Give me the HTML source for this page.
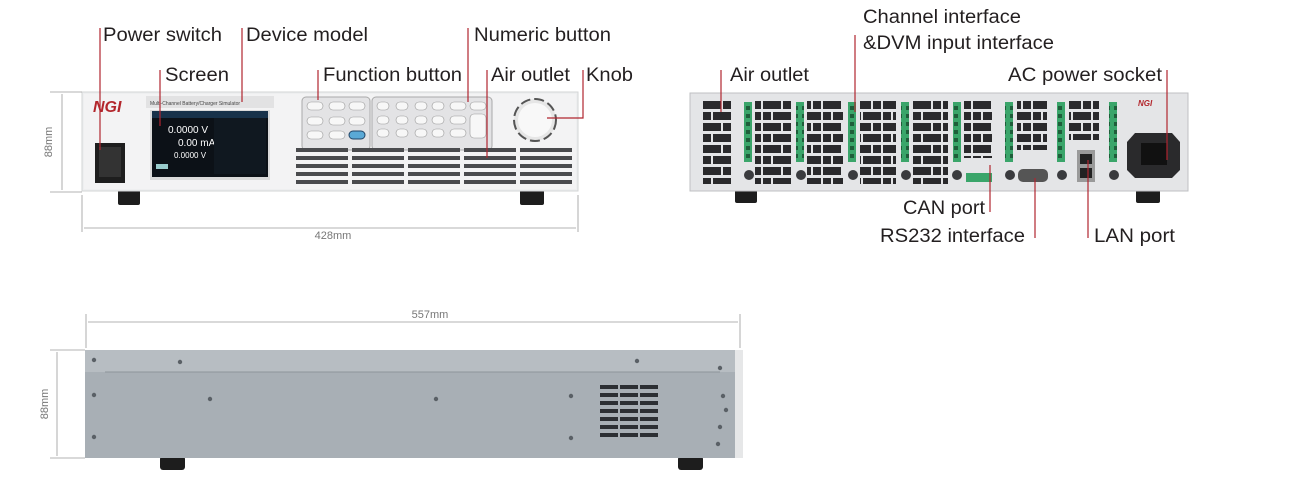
<!DOCTYPE html>
<html><head><meta charset="utf-8"><style>
html,body{margin:0;padding:0;background:#fff;}
svg{display:block;}
text{font-family:"Liberation Sans",Arial,sans-serif;fill:#231f20;}
</style></head><body>
<svg width="1293" height="492" viewBox="0 0 1293 492" xmlns="http://www.w3.org/2000/svg">
<defs>
<pattern id="fv" width="56" height="8" patternUnits="userSpaceOnUse" x="296" y="148">
<rect x="0" y="0" width="52" height="4" fill="#4a4b4e"/>
</pattern>
<pattern id="rv" width="30" height="22" patternUnits="userSpaceOnUse" x="703" y="100">
<rect x="0" y="1" width="18" height="8" fill="#2a2a2c"/><rect x="20" y="1" width="8" height="8" fill="#2a2a2c"/>
<rect x="0" y="12" width="8" height="8" fill="#2a2a2c"/><rect x="10" y="12" width="18" height="8" fill="#2a2a2c"/>
</pattern>
<pattern id="gc" width="8" height="8" patternUnits="userSpaceOnUse">
<rect width="8" height="8" fill="#3aa56a"/><rect x="2" y="2" width="4" height="4" fill="#1e5e3a"/>
</pattern>
<pattern id="sv" width="20" height="8" patternUnits="userSpaceOnUse" x="600" y="385">
<rect x="0" y="0" width="18" height="4" fill="#2c2f33"/>
</pattern>
</defs>

<!-- ===== FRONT ===== -->
<rect x="118" y="190" width="22" height="15" fill="#1d1d1d" rx="2"/>
<rect x="520" y="190" width="24" height="15" fill="#1d1d1d" rx="2"/>
<rect x="82" y="92" width="496" height="99" fill="#eeeff0" stroke="#d3d4d6"/>
<rect x="84" y="94" width="492" height="95" fill="#f3f3f4"/>
<text x="93" y="112" font-size="16" font-style="italic" font-weight="bold" style="fill:#b3262c">NGI</text>
<rect x="95" y="143" width="30" height="40" fill="#1e1e1e"/>
<rect x="99" y="147" width="22" height="30" fill="#333" />
<rect x="146" y="96" width="128" height="12" fill="#e2e2e3"/>
<text x="150" y="105" font-size="5" style="fill:#444">Multi-Channel Battery/Charger Simulator</text>
<rect x="150" y="110" width="120" height="70" fill="#dadada"/>
<rect x="152" y="111" width="116" height="66" fill="#0c1117"/>
<rect x="152" y="111" width="116" height="7" fill="#18324a"/>
<text x="168" y="133" font-size="10" style="fill:#fff">0.0000 V</text>
<text x="178" y="146" font-size="10" style="fill:#fff">0.00 mA</text>
<text x="174" y="158" font-size="8" style="fill:#fff">0.0000 V</text>
<rect x="156" y="164" width="12" height="5" fill="#9cc"/>
<rect x="214" y="118" width="52" height="56" fill="#101820"/>
<rect x="302" y="97" width="68" height="53" rx="4" fill="#e3e3e5" stroke="#aaa"/>
<rect x="372" y="97" width="120" height="53" rx="4" fill="#e3e3e5" stroke="#aaa"/>
<g fill="#f7f7f7" stroke="#999" stroke-width="0.6">
<rect x="307" y="102" width="16" height="8" rx="4"/><rect x="329" y="102" width="16" height="8" rx="4"/><rect x="349" y="102" width="16" height="8" rx="4"/>
<rect x="307" y="117" width="16" height="8" rx="4"/><rect x="329" y="117" width="16" height="8" rx="4"/><rect x="349" y="117" width="16" height="8" rx="4"/>
<rect x="307" y="131" width="16" height="8" rx="4"/><rect x="329" y="131" width="16" height="8" rx="4"/>
<rect x="377" y="102" width="12" height="8" rx="4"/><rect x="396" y="102" width="12" height="8" rx="4"/><rect x="415" y="102" width="12" height="8" rx="4"/><rect x="432" y="102" width="12" height="8" rx="4"/><rect x="450" y="102" width="16" height="8" rx="4"/><rect x="470" y="102" width="16" height="8" rx="4"/>
<rect x="377" y="116" width="12" height="8" rx="4"/><rect x="396" y="116" width="12" height="8" rx="4"/><rect x="415" y="116" width="12" height="8" rx="4"/><rect x="432" y="116" width="12" height="8" rx="4"/><rect x="450" y="116" width="16" height="8" rx="4"/>
<rect x="377" y="129" width="12" height="8" rx="4"/><rect x="396" y="129" width="12" height="8" rx="4"/><rect x="415" y="129" width="12" height="8" rx="4"/><rect x="432" y="129" width="12" height="8" rx="4"/><rect x="450" y="129" width="16" height="8" rx="4"/>
<rect x="470" y="114" width="16" height="24" rx="4"/>
</g>
<rect x="349" y="131" width="16" height="8" rx="4" fill="#5aa9d6" stroke="#246"/>
<rect x="296" y="148" width="279" height="38" fill="url(#fv)"/>
<circle cx="535" cy="120" r="21" fill="#e6e6e6" stroke="#555" stroke-width="2" stroke-dasharray="10 4"/>
<circle cx="535" cy="120" r="17" fill="#f8f8f8"/>
<!-- front dims -->
<g stroke="#9a9a9a" stroke-width="0.8" fill="none">
<line x1="50" y1="92" x2="82" y2="92"/><line x1="50" y1="192" x2="82" y2="192"/>
<line x1="62" y1="94" x2="62" y2="190"/>
<line x1="82" y1="195" x2="82" y2="232"/><line x1="578" y1="195" x2="578" y2="232"/>
<line x1="84" y1="228" x2="576" y2="228"/>
</g>
<text x="0" y="0" font-size="11" style="fill:#777" transform="translate(52,142) rotate(-90)" text-anchor="middle">88mm</text>
<text x="333" y="239" font-size="11" style="fill:#777" text-anchor="middle">428mm</text>

<!-- ===== REAR ===== -->
<rect x="735" y="190" width="22" height="13" fill="#1d1d1d" rx="2"/>
<rect x="1136" y="190" width="24" height="13" fill="#1d1d1d" rx="2"/>
<rect x="690" y="93" width="498" height="98" fill="#e4e5e7" stroke="#bfc0c3"/>
<g fill="url(#rv)">
<rect x="703" y="100" width="28" height="84"/>
<rect x="755" y="100" width="36" height="84"/>
<rect x="807" y="100" width="36" height="84"/>
<rect x="860" y="100" width="36" height="84"/>
<rect x="912" y="100" width="36" height="84"/>
<rect x="964" y="100" width="28" height="58"/>
<rect x="1017" y="100" width="30" height="50"/>
<rect x="1069" y="100" width="30" height="40"/>
</g>
<g fill="url(#gc)">
<rect x="744" y="102" width="8" height="60"/><rect x="796" y="102" width="8" height="60"/>
<rect x="848" y="102" width="8" height="60"/><rect x="901" y="102" width="8" height="60"/>
<rect x="953" y="102" width="8" height="60"/><rect x="1005" y="102" width="8" height="60"/>
<rect x="1057" y="102" width="8" height="60"/><rect x="1109" y="102" width="8" height="60"/>
</g>
<g fill="#3a3b3e">
<circle cx="749" cy="175" r="5"/><circle cx="801" cy="175" r="5"/><circle cx="853" cy="175" r="5"/><circle cx="906" cy="175" r="5"/><circle cx="957" cy="175" r="5"/><circle cx="1010" cy="175" r="5"/><circle cx="1062" cy="175" r="5"/><circle cx="1114" cy="175" r="5"/>
</g>
<rect x="966" y="173" width="26" height="9" fill="#3aa56a"/>
<rect x="1018" y="169" width="30" height="13" rx="5" fill="#555"/>
<rect x="1077" y="150" width="18" height="32" fill="#9a9a9a"/>
<rect x="1080" y="154" width="12" height="10" fill="#222"/><rect x="1080" y="168" width="12" height="10" fill="#222"/>
<polygon points="1135,133 1172,133 1180,142 1180,170 1172,178 1135,178 1127,170 1127,142" fill="#2a2a2c"/>
<rect x="1141" y="143" width="26" height="22" fill="#111"/>
<text x="1138" y="106" font-size="8" font-style="italic" font-weight="bold" style="fill:#b3262c">NGI</text>

<!-- ===== SIDE ===== -->
<rect x="160" y="456" width="25" height="14" fill="#1d1d1d" rx="3"/>
<rect x="678" y="456" width="25" height="14" fill="#1d1d1d" rx="3"/>
<rect x="85" y="350" width="650" height="108" fill="#a8afb5"/>
<rect x="85" y="350" width="650" height="22" fill="#b7bdc2"/>
<line x1="105" y1="372" x2="720" y2="372" stroke="#8e959b"/>
<rect x="735" y="350" width="8" height="108" fill="#e6e7e8"/>
<rect x="600" y="385" width="60" height="56" fill="url(#sv)"/>
<g fill="#5a6066">
<circle cx="94" cy="360" r="2.2"/><circle cx="180" cy="362" r="2.2"/><circle cx="637" cy="361" r="2.2"/><circle cx="720" cy="368" r="2.2"/>
<circle cx="94" cy="395" r="2.2"/><circle cx="210" cy="399" r="2.2"/><circle cx="436" cy="399" r="2.2"/><circle cx="571" cy="396" r="2.2"/><circle cx="723" cy="396" r="2.2"/><circle cx="726" cy="410" r="2.2"/><circle cx="720" cy="427" r="2.2"/>
<circle cx="94" cy="437" r="2.2"/><circle cx="571" cy="438" r="2.2"/><circle cx="718" cy="444" r="2.2"/>
</g>
<g stroke="#9a9a9a" stroke-width="0.8" fill="none">
<line x1="86" y1="314" x2="86" y2="348"/><line x1="740" y1="314" x2="740" y2="348"/>
<line x1="88" y1="322" x2="738" y2="322"/>
<line x1="50" y1="350" x2="85" y2="350"/><line x1="50" y1="458" x2="85" y2="458"/>
<line x1="57" y1="352" x2="57" y2="456"/>
</g>
<text x="0" y="0" font-size="11" style="fill:#777" transform="translate(48,404) rotate(-90)" text-anchor="middle">88mm</text>
<text x="430" y="318" font-size="11" style="fill:#777" text-anchor="middle">557mm</text>

<!-- ===== LEADER LINES ===== -->
<g stroke="#b0252f" stroke-width="1.2" fill="none">
<line x1="100" y1="28" x2="100" y2="150"/>
<line x1="242" y1="28" x2="242" y2="102"/>
<line x1="160" y1="70" x2="160" y2="126"/>
<line x1="318" y1="70" x2="318" y2="100"/>
<line x1="468" y1="28" x2="468" y2="102"/>
<line x1="487" y1="70" x2="487" y2="158"/>
<polyline points="583,70 583,118 547,118"/>
<line x1="721" y1="70" x2="721" y2="112"/>
<line x1="855" y1="35" x2="855" y2="112"/>
<line x1="1167" y1="70" x2="1167" y2="160"/>
<line x1="990" y1="165" x2="990" y2="212"/>
<line x1="1035" y1="178" x2="1035" y2="238"/>
<line x1="1088" y1="160" x2="1088" y2="238"/>
</g>

<!-- ===== LABELS ===== -->
<g font-size="19">
<text x="103" y="41" textLength="119" lengthAdjust="spacingAndGlyphs">Power switch</text>
<text x="246" y="41" textLength="122" lengthAdjust="spacingAndGlyphs">Device model</text>
<text x="474" y="41" textLength="137" lengthAdjust="spacingAndGlyphs">Numeric button</text>
<text x="165" y="81" textLength="64" lengthAdjust="spacingAndGlyphs">Screen</text>
<text x="323" y="81" textLength="139" lengthAdjust="spacingAndGlyphs">Function button</text>
<text x="491" y="81" textLength="79" lengthAdjust="spacingAndGlyphs">Air outlet</text>
<text x="586" y="81" textLength="47" lengthAdjust="spacingAndGlyphs">Knob</text>
<text x="863" y="23" textLength="158" lengthAdjust="spacingAndGlyphs">Channel interface</text>
<text x="863" y="49" textLength="191" lengthAdjust="spacingAndGlyphs">&amp;DVM input interface</text>
<text x="730" y="81" textLength="79" lengthAdjust="spacingAndGlyphs">Air outlet</text>
<text x="1008" y="81" textLength="154" lengthAdjust="spacingAndGlyphs">AC power socket</text>
<text x="903" y="214" textLength="82" lengthAdjust="spacingAndGlyphs">CAN port</text>
<text x="880" y="242" textLength="145" lengthAdjust="spacingAndGlyphs">RS232 interface</text>
<text x="1094" y="242" textLength="81" lengthAdjust="spacingAndGlyphs">LAN port</text>
</g>
</svg>
</body></html>
